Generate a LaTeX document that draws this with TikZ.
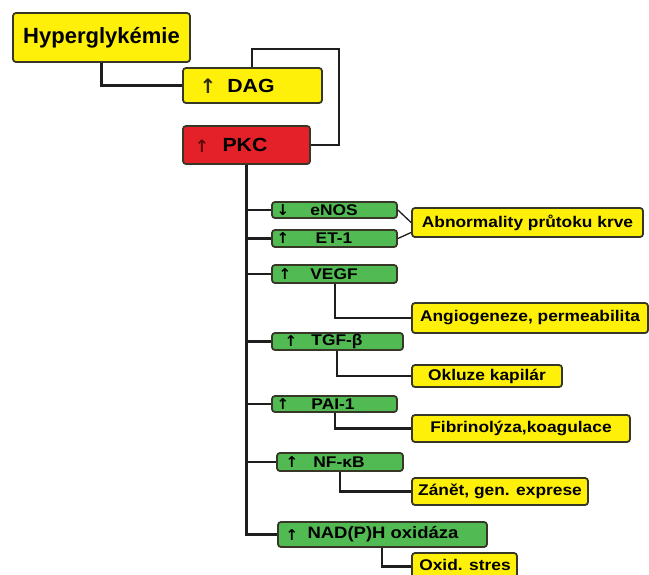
\documentclass[tikz,border=0pt]{standalone}
\usepackage{fontspec}
\setmainfont{Liberation Sans}
\newfontfamily\widefont{Liberation Sans}[FakeStretch=1.12]
\newfontfamily\symfont{DejaVu Sans}
\usetikzlibrary{fit,calc}
\definecolor{yel}{RGB}{255,240,10}
\definecolor{grn}{RGB}{82,186,82}
\definecolor{rd}{RGB}{228,32,40}
\definecolor{edge}{RGB}{55,55,40}
\definecolor{wirec}{RGB}{30,30,30}
\tikzset{
  box/.style={draw=edge, line width=1.8pt, rounded corners=3pt, inner sep=0pt},
  ybox/.style={box, fill=yel},
  gbox/.style={box, fill=grn},
  rbox/.style={box, fill=rd},
  ytxt/.style={inner sep=0pt, text=black, font=\widefont\bfseries\fontsize{15.5}{15.5}\selectfont},
  gtxt/.style={inner sep=0pt, text=black, font=\widefont\bfseries\fontsize{15.5}{15.5}\selectfont},
  arr/.style={font=\symfont\bfseries\fontsize{15}{15}\selectfont, inner sep=0pt, text=black},
  wire/.style={line width=2.3pt, draw=wirec},
}
\begin{document}
\begin{tikzpicture}[x=1pt,y=-1pt]
\useasboundingbox[fill=white] (0,0) rectangle (649,574);
% top boxes
\node[ybox, fit={(13,13)(190,62)}] (hyp) {};
\node[inner sep=0pt, font=\bfseries\fontsize{22}{22}\selectfont] (hypt) at (hyp.center) {Hyperglykémie};
\node[ybox, fit={(183,68)(322,103)}] (dag) {};
\node[ytxt, font=\widefont\bfseries\fontsize{19}{19}\selectfont] (dagt) at (251,86) {DAG};
\node[rbox, fit={(183,126)(310,164)}] (pkc) {};
\node[ytxt, font=\widefont\bfseries\fontsize{19}{19}\selectfont] (pkct) at (245,145) {PKC};
\node[arr, font=\symfont\bfseries\fontsize{20}{20}\selectfont, text={rgb,255:red,50;green,45;blue,10}] (dagarr) at (208,86) {↑};
\node[arr, font=\symfont\bfseries\fontsize{17}{17}\selectfont, text={rgb,255:red,90;green,10;blue,10}] (pkcarr) at (202,146) {↑};
% green boxes
\node[gbox, fit={(272,202)(397,218)}] (enos) {};
\node[gbox, fit={(272,230)(397,247)}] (et) {};
\node[gbox, fit={(272,265)(397,283)}] (vegf) {};
\node[gbox, fit={(272,333)(403,350)}] (tgf) {};
\node[gbox, fit={(272,396)(397,412)}] (pai) {};
\node[gbox, fit={(277,453)(403,471)}] (nf) {};
\node[gbox, fit={(278,522)(487,547)}] (nad) {};
\node[gtxt] (enost) at (334,210) {eNOS};
\node[gtxt] (ett) at (334,238.5) {ET-1};
\node[gtxt] (vegft) at (334,274) {VEGF};
\node[gtxt] (tgft) at (337,341.5) {TGF-β};
\node[gtxt] (pait) at (333,404) {PAI-1};
\node[gtxt] (nft) at (339,462) {NF-κB};
\node[gtxt, font=\widefont\bfseries\fontsize{16.5}{16.5}\selectfont] (nadt) at (383,534.5) {NAD(P)H oxidáza};
\node[arr] (a1) at (283,210) {↓};
\node[arr] (a2) at (283,238.5) {↑};
\node[arr] (a3) at (285,274) {↑};
\node[arr] (a4) at (291,341.5) {↑};
\node[arr] (a5) at (283,404) {↑};
\node[arr] (a6) at (292,462) {↑};
\node[arr] (a7) at (292,534.5) {↑};
% yellow outcome boxes
\node[ybox, fit={(412,208)(643,237)}] (abn) {};
\node[ybox, fit={(412,303)(648,333)}] (ang) {};
\node[ybox, fit={(412,365)(562,387)}] (okl) {};
\node[ybox, fit={(412,415)(630,442)}] (fib) {};
\node[ybox, fit={(412,478)(588,505)}] (zan) {};
\node[ybox, fit={(412,553)(517,580)}] (oxi) {};
\node[ytxt] (abnt) at (abn.center) {Abnormality průtoku krve};
\node[ytxt] (angt) at (ang.center) {Angiogeneze, permeabilita};
\node[ytxt] (oklt) at (okl.center) {Okluze kapilár};
\node[ytxt] (fibt) at (fib.center) {Fibrinolýza,koagulace};
\node[ytxt] (zant) at (zan.center) {Zánět, gen. exprese};
\node[ytxt] (oxit) at (465,565) {Oxid. stres};
% connectors
\draw[wire] (hyp.south) |- (dag.west);
\draw[wire] (dag.north -| 252,0) |- (339,49) |- (pkc.east);
\draw[wire] (pkc.south) |- (nad.west);
\foreach \n in {enos,et,vegf,tgf,pai,nf}
  \draw[wire] (\n.west -| pkc.south) -- (\n.west);
\draw[line width=1.3pt, draw=wirec] (enos.east) -- (abn.west);
\draw[line width=1.3pt, draw=wirec] (et.east) -- ($(abn.west)+(0,10)$);
\draw[wire] (vegf.south -| 335,0) |- (ang.west);
\draw[wire] (tgf.south -| 337,0) |- (okl.west);
\draw[wire] (pai.south -| 335,0) |- (fib.west);
\draw[wire] (nf.south -| 340,0) |- (zan.west);
\draw[wire] (nad.south -| 382,0) |- (oxi.west);
\end{tikzpicture}
\end{document}
